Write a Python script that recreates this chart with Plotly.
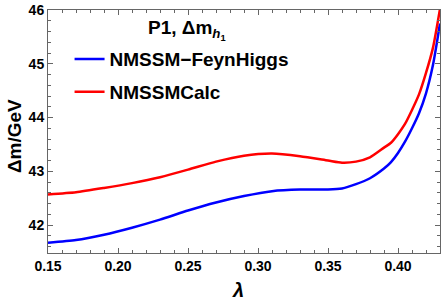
import plotly.graph_objects as go

lam = [0.15, 0.17, 0.19, 0.21, 0.23, 0.25, 0.27, 0.29, 0.31, 0.33, 0.35, 0.36, 0.37,
       0.38, 0.39, 0.395, 0.40, 0.405, 0.41, 0.415, 0.42, 0.425, 0.43]
feynhiggs = [41.67, 41.72, 41.82, 41.95, 42.10, 42.27, 42.42, 42.54, 42.63, 42.66, 42.66,
             42.68, 42.76, 42.87, 43.05, 43.17, 43.34, 43.55, 43.80, 44.08, 44.45, 44.98, 45.75]
nmssmcalc = [42.57, 42.61, 42.69, 42.78, 42.89, 43.03, 43.18, 43.29, 43.33, 43.28, 43.20,
             43.16, 43.18, 43.26, 43.44, 43.53, 43.69, 43.88, 44.14, 44.43, 44.83, 45.30, 46.02]
series_names = ["NMSSM\u2212FeynHiggs", "NMSSMCalc"]
legend_title = "P1, Δm<sub><i>h</i><sub>1</sub></sub>"
x_ticks = [0.15, 0.20, 0.25, 0.30, 0.35, 0.40]
y_ticks = [42, 43, 44, 45, 46]

FONT = "Liberation Sans, Arial, sans-serif"

fig = go.Figure()
fig.add_trace(go.Scatter(x=lam, y=feynhiggs, mode="lines", name=series_names[0],
                         line=dict(color="#0000ff", width=2.5, shape="spline", smoothing=0.6),
                         legendgroup="a"))
fig.add_trace(go.Scatter(x=lam, y=nmssmcalc, mode="lines", name=series_names[1],
                         line=dict(color="#ff0000", width=2.5, shape="spline", smoothing=0.6),
                         legendgroup="b"))

axis_common = dict(
    showline=True, linecolor="#666666", linewidth=1, mirror="allticks",
    ticks="inside", ticklen=5, tickwidth=1, tickcolor="#666666",
    showgrid=False, zeroline=False, automargin=False,
    tickfont=dict(family=FONT, size=14, color="black", weight="bold"),
)

fig.update_xaxes(
    range=[0.15, 0.43], tickvals=x_ticks, ticktext=[f"{v:.2f}" for v in x_ticks],
    minor=dict(ticks="inside", ticklen=3, dtick=0.01, tick0=0.15, tickcolor="#666666", showgrid=False),
    **axis_common,
)
fig.update_yaxes(
    range=[41.48, 46.0], tickvals=y_ticks, ticktext=[str(v) for v in y_ticks],
    minor=dict(ticks="inside", ticklen=3, dtick=0.2, tick0=42, tickcolor="#666666", showgrid=False),
    **axis_common,
)

fig.add_annotation(text="Δm/GeV", xref="paper", yref="paper", x=-0.084, y=0.4815,
                   textangle=-90, showarrow=False, xanchor="center", yanchor="middle",
                   font=dict(family=FONT, size=19, color="black", weight="bold"))
fig.add_annotation(text="<i>λ</i>", xref="paper", yref="paper", x=0.4847, y=-0.152,
                   showarrow=False, xanchor="center", yanchor="middle",
                   font=dict(family=FONT, size=20, color="black", weight="bold"))
# legend title
fig.add_annotation(text=legend_title, xref="paper", yref="paper", x=0.354, y=0.918,
                   showarrow=False, xanchor="center", yanchor="middle",
                   font=dict(family=FONT, size=19, color="black", weight="bold"))

fig.update_layout(
    width=441, height=303,
    margin=dict(l=48, r=1, t=10, b=50),
    paper_bgcolor="white", plot_bgcolor="white",
    showlegend=True,
    legend=dict(
        x=0.055, y=0.876, xanchor="left", yanchor="top",
        bgcolor="rgba(0,0,0,0)",
        font=dict(family=FONT, size=19, color="black", weight="bold"),
        tracegroupgap=5,
    ),
)

fig.write_html("out.html", config={"displayModeBar": False},
               post_script="document.body.style.margin='0px';")
